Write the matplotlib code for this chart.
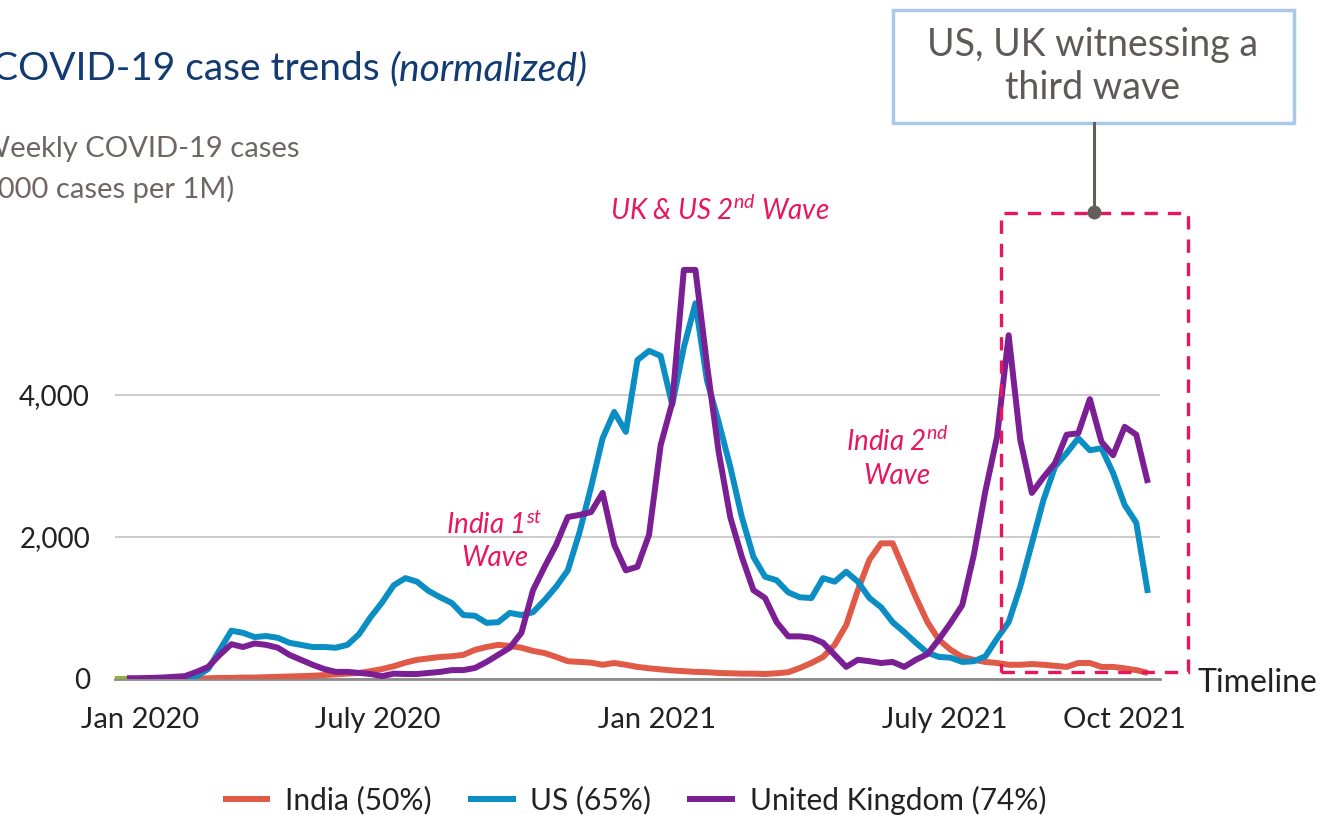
import matplotlib.pyplot as plt
from matplotlib.patches import Rectangle

# weekly series, index 0 = late Jan 2020
weeks = list(range(89))
india = [5, 5, 5, 5, 5, 5, 5, 10, 15, 15, 20, 20, 25, 30, 35, 40, 45, 55, 65, 75,
         85, 110, 140, 180, 230, 270, 290, 310, 320, 340, 410, 450, 480, 465, 440,
         395, 365, 310, 250, 240, 230, 200, 225, 200, 170, 150, 135, 120, 110, 100,
         95, 85, 80, 75, 75, 70, 80, 95, 155, 225, 310, 480, 760, 1250, 1680, 1910,
         1910, 1530, 1150, 800, 550, 410, 310, 270, 240, 225, 200, 200, 210, 200,
         185, 170, 225, 225, 170, 170, 150, 125, 85]
us = [0, 0, 0, 0, 0, 5, 40, 140, 410, 680, 650, 590, 605, 580, 510, 480, 450, 450,
      440, 480, 630, 870, 1080, 1320, 1420, 1370, 1240, 1150, 1070, 900, 890, 790,
      800, 930, 900, 940, 1110, 1300, 1530, 2060, 2700, 3390, 3760, 3480, 4490,
      4620, 4550, 3860, 4670, 5290, 4200, 3620, 2990, 2280, 1720, 1440, 1390, 1220,
      1150, 1140, 1420, 1370, 1510, 1370, 1140, 1010, 800, 660, 510, 370, 310, 300,
      240, 250, 320, 570, 800, 1300, 1910, 2520, 2990, 3180, 3390, 3220, 3250, 2900,
      2450, 2200, 1210]
uk = [10, 10, 15, 20, 30, 40, 100, 170, 340, 490, 450, 500, 480, 440, 340, 270, 200,
      140, 100, 100, 85, 70, 40, 75, 70, 70, 85, 100, 125, 125, 155, 240, 340, 440,
      650, 1250, 1580, 1890, 2280, 2310, 2350, 2620, 1890, 1530, 1580, 2030, 3290,
      3890, 5760, 5760, 4420, 3200, 2280, 1720, 1250, 1140, 800, 600, 600, 580, 510,
      340, 170, 270, 250, 225, 240, 170, 270, 350, 560, 790, 1040, 1750, 2650, 3410,
      4840, 3370, 2620, 2840, 3040, 3440, 3460, 3940, 3340, 3150, 3550, 3440, 2760]
other_weeks = [-1, 0]
other = [0, 0]

series = [
    ("India (50%)", india, "#e05a47"),
    ("US (65%)", us, "#0a8ec4"),
    ("United Kingdom (74%)", uk, "#7a1f94"),
]

tick_pos = [1.1, 21.6, 45.7, 70.5, 86.0]
tick_labels = ["Jan 2020", "July 2020", "Jan 2021", "July 2021", "Oct 2021"]
y_ticks = [0, 2000, 4000]

# third-wave highlight window (week index / cases)
wave3_start, wave3_end = 75.3, 91.5
wave3_low, wave3_high = 100, 6560

plt.rcParams['font.family'] = ['Lato', 'DejaVu Sans']
plt.rcParams['mathtext.fontset'] = 'custom'
plt.rcParams['mathtext.it'] = 'Lato:italic'
plt.rcParams['mathtext.rm'] = 'Lato:italic'

fig = plt.figure(figsize=(13.22, 8.15), dpi=100, facecolor="white")
ax = fig.add_axes([0.087, 0.1669, 0.7905, 0.5664])

ax.plot(other_weeks, other, color="#95b034", lw=4.3, solid_capstyle="butt")
for name, vals, col in series:
    ax.plot(weeks, vals, color=col, lw=4.3, label=name,
            solid_joinstyle="round", solid_capstyle="butt")

ax.set_xlim(-1.03, 89.05)
ax.set_ylim(0, 6500)
ax.set_yticks(y_ticks)
ax.set_yticklabels([f"{v:,}" for v in y_ticks])
ax.set_xticks(tick_pos)
ax.set_xticklabels(tick_labels)
ax.tick_params(axis="both", length=0, colors="#222222")
ax.tick_params(axis="x", pad=20, labelsize=21)
ax.tick_params(axis="y", pad=18, labelsize=20)
ax.grid(axis="y", color="#c8c8c8", lw=1.3)
ax.set_axisbelow(True)
for s in ["top", "right", "left"]:
    ax.spines[s].set_visible(False)
ax.spines["bottom"].set_color("#8a8a8a")
ax.spines["bottom"].set_linewidth(2)
ax.spines["bottom"].set_zorder(1)

# dashed highlight box
ax.add_patch(Rectangle((wave3_start, wave3_low), wave3_end - wave3_start,
                       wave3_high - wave3_low, fill=False, ec="#e8175d", lw=2.4,
                       ls=(0, (4, 3)), clip_on=False, zorder=5))

pink = "#e8175d"
ax.text(51.1, 6600, "UK & US 2$^{nd}$ Wave", color=pink, fontsize=20,
        style="italic", ha="center", va="center")
ax.text(31.7, 2170, "India 1$^{st}$", color=pink, fontsize=20,
        style="italic", ha="center", va="center")
ax.text(31.7, 1700, "Wave", color=pink, fontsize=20,
        style="italic", ha="center", va="center")
ax.text(66.4, 3350, "India 2$^{nd}$", color=pink, fontsize=20,
        style="italic", ha="center", va="center")
ax.text(66.4, 2860, "Wave", color=pink, fontsize=20,
        style="italic", ha="center", va="center")

# titles (cropped at the left edge, as in the source slide)
t1 = fig.text(-0.006, 0.915, "COVID-19 case trends ", fontsize=28, color="#123a73",
              va="center", ha="left")
fig.canvas.draw()
bb = t1.get_window_extent()
fig.text(bb.x1 / fig.bbox.width, 0.915, "(normalized)", fontsize=28,
         color="#123a73", style="italic", va="center", ha="left")
fig.text(-0.0155, 0.817, "Weekly COVID-19 cases", fontsize=21, color="#6d6664",
         va="center", ha="left")
fig.text(-0.0075, 0.768, "(000 cases per 1M)", fontsize=21, color="#6d6664",
         va="center", ha="left")

fig.text(0.906, 0.162, "Timeline", fontsize=23, color="#222222",
         va="center", ha="left")

# callout
fig.patches.append(Rectangle((0.6755, 0.849), 0.303, 0.139, transform=fig.transFigure,
                             fill=True, fc="white", ec="#a9c8ea", lw=2.5))
fig.text(0.8268, 0.918, "US, UK witnessing a\nthird wave", fontsize=27,
         color="#5f5a58", ha="center", va="center", linespacing=1.25)
fig.add_artist(plt.Line2D([0.8275, 0.8275], [0.849, 0.74], color="#635d5b", lw=2.2))
fig.add_artist(plt.Line2D([0.8275], [0.74], marker="o", ms=9, color="#635d5b"))

fig.legend(loc="center", bbox_to_anchor=(0.48, 0.018), ncol=3, frameon=False,
           fontsize=21.5, handlelength=1.6, columnspacing=1.2, handletextpad=0.5,
           labelcolor="#222222")

fig.savefig("out.png", dpi=100, facecolor="white")
